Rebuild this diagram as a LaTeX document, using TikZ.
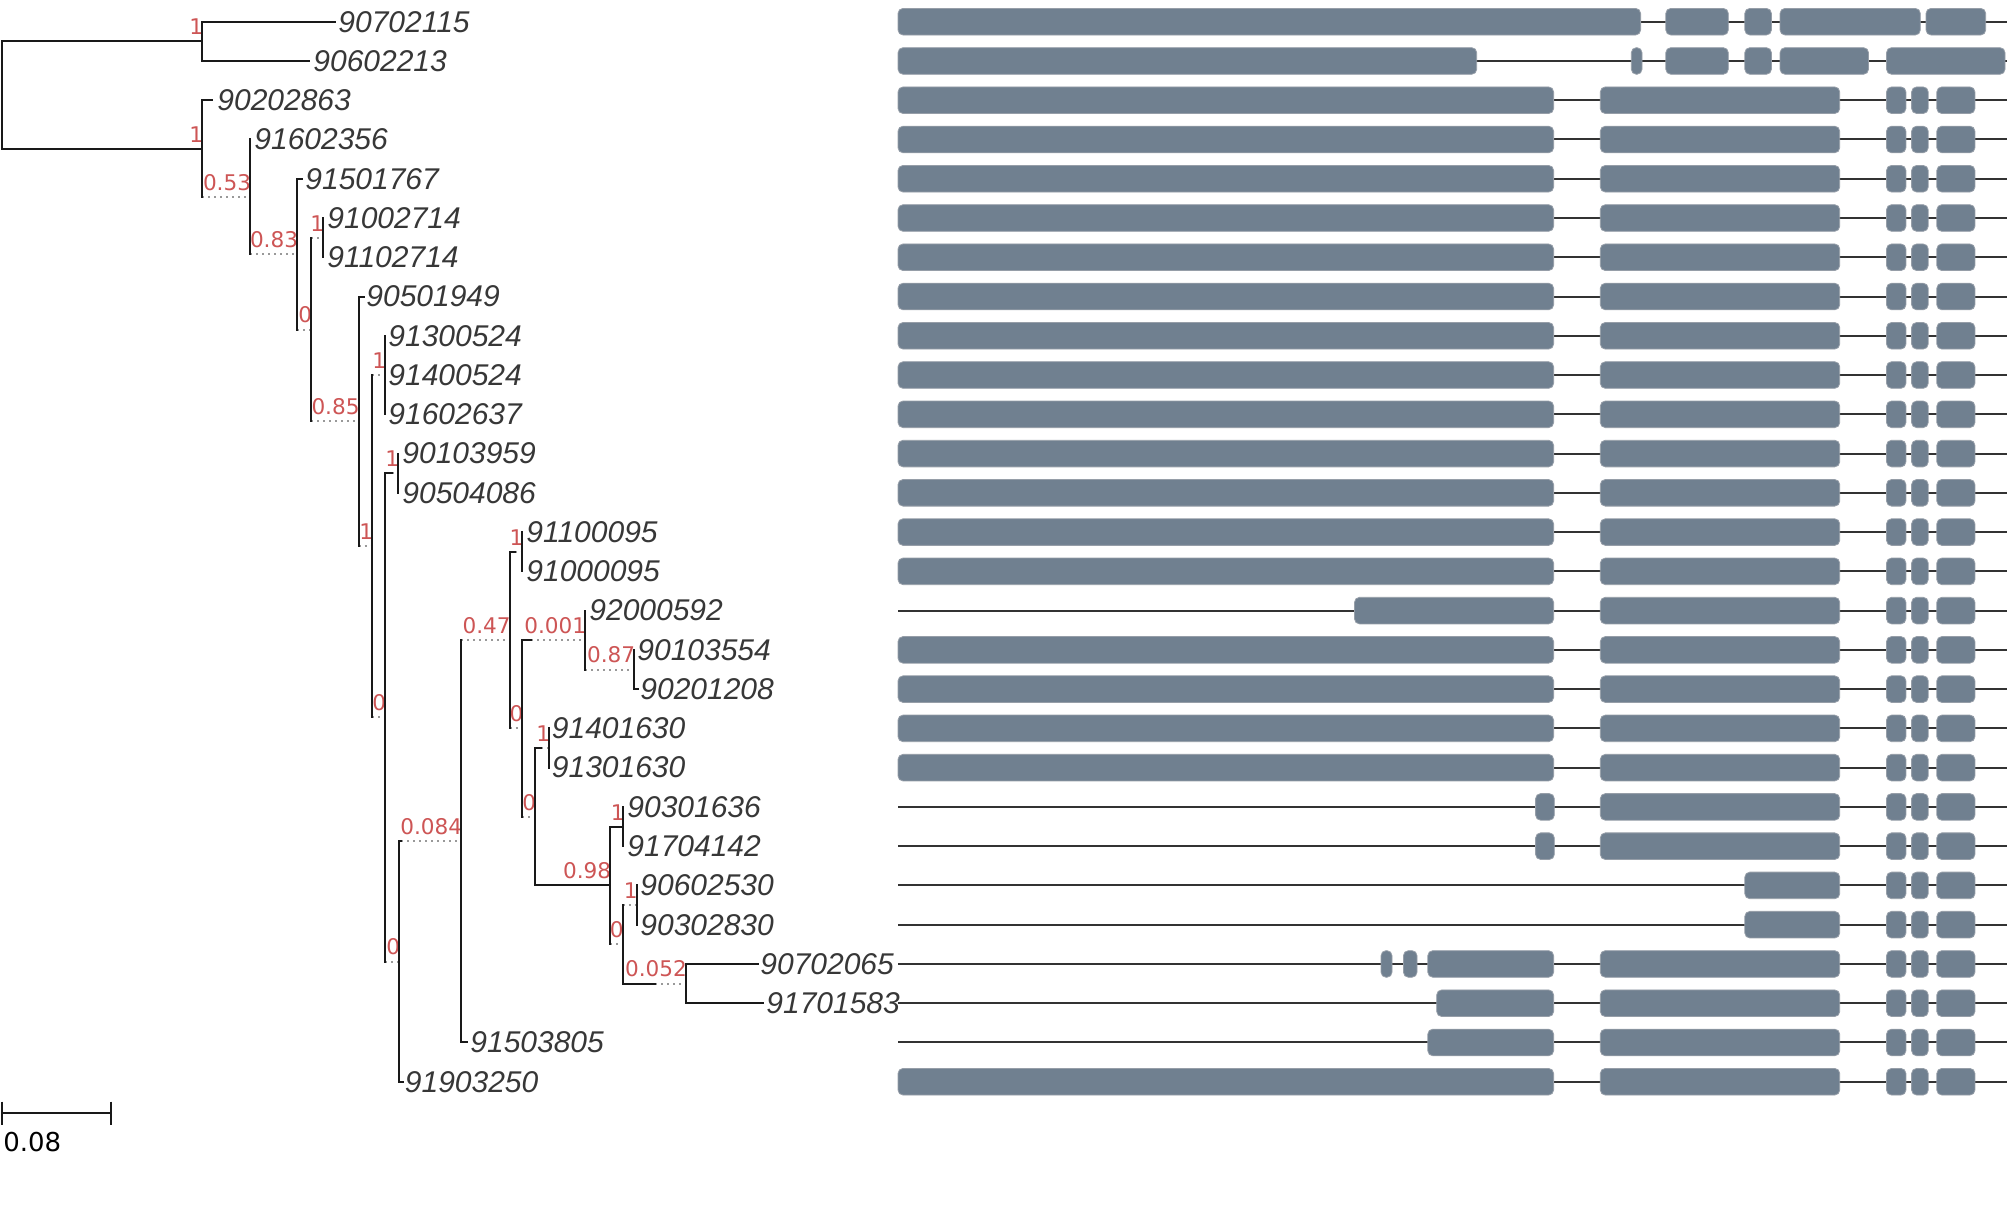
\documentclass[tikz,border=0pt]{standalone}
\usepackage{fontspec}
\newfontfamily\lsans{Liberation Sans}
\newfontfamily\dsans{DejaVu Sans}
\usetikzlibrary{calc}
\definecolor{supred}{RGB}{205,85,85}
\definecolor{exonfill}{RGB}{112,128,144}
\definecolor{exonedge}{RGB}{150,158,168}
\definecolor{leafgray}{RGB}{55,55,55}
\newcommand\generow[2]{%
  \pgfmathsetmacro\gy{21.7+39.26*#1}%
  \draw[intron] (898,\gy) -- (2007,\gy);
  \foreach \a/\b in {#2}{\draw[exonbox] (\a,\gy-13.3) rectangle (\b,\gy+13.3);}%
}
\begin{document}
\begin{tikzpicture}[x=0.5pt,y=-0.5pt,
  br/.style={line width=1pt,black!90,line cap=rect},
  ext/.style={line width=1pt,black!40,dash pattern=on 1pt off 2pt},
  bsup/.style={font=\dsans\fontsize{10.8}{13}\selectfont,text=supred,anchor=south east,inner sep=0pt},
  leaf/.style={font=\lsans\itshape\fontsize{15}{18}\selectfont,text=leafgray,anchor=west,inner sep=0pt},
  intron/.style={line width=1pt,black!80},
  exonbox/.style={fill=exonfill,draw=exonedge,line width=0.4pt,rounded corners=2.5pt}]
\useasboundingbox (0,0) rectangle (2007,1211);
% ---------- internal nodes ----------
\coordinate (root) at (2,94.92);
\coordinate (A) at (202,41.33);
\coordinate (B) at (202,148.51);
\coordinate (C) at (250,196.80);
\coordinate (D) at (297,254.12);
\coordinate (E) at (311,329.50);
\coordinate (F) at (323,237.63);
\coordinate (G) at (358.5,421.36);
\coordinate (H) at (372,546.19);
\coordinate (I) at (385,375.04);
\coordinate (K) at (385,717.34);
\coordinate (J) at (398,473.19);
\coordinate (M) at (399,961.49);
\coordinate (N) at (461,841.25);
\coordinate (O) at (509.5,640.05);
\coordinate (P) at (522.3,551.71);
\coordinate (Q) at (522.3,728.38);
\coordinate (R) at (585,640.05);
\coordinate (S) at (634,669.49);
\coordinate (T) at (535,816.72);
\coordinate (U) at (549,748.01);
\coordinate (V) at (610,885.42);
\coordinate (W) at (623.4,826.53);
\coordinate (X) at (622.6,944.31);
\coordinate (Y) at (636.5,905.05);
\coordinate (Z) at (685.8,983.57);
% ---------- leaves ----------
\foreach \i/\p/\tp/\lx/\txt in {
0/A/335/338/90702115,
1/A/309/313/90602213,
2/B/212/217/90202863,
3/C/250/254/91602356,
4/D/302/305/91501767,
5/F/323/327/91002714,
6/F/323/327/91102714,
7/G/364/366/90501949,
8/I/385/388/91300524,
9/I/385/388/91400524,
10/I/385/388/91602637,
11/J/398/402/90103959,
12/J/398/402/90504086,
13/P/522.3/526/91100095,
14/P/522.3/526/91000095,
15/R/585/589/92000592,
16/S/634/637/90103554,
17/S/638/640/90201208,
18/U/549/551.5/91401630,
19/U/549/551.5/91301630,
20/W/623.4/627/90301636,
21/W/623.4/627/91704142,
22/Y/636.5/640/90602530,
23/Y/636.5/640/90302830,
24/Z/758/760/90702065,
25/Z/763/766/91701583,
26/N/467/470/91503805,
27/M/403/404.5/91903250}
{
  \pgfmathsetmacro\yy{21.7+39.26*\i}
  \coordinate (t\i) at (\tp,\yy);
  \node[leaf] (l\i) at (\lx,\yy) {\txt};
  \draw[br] (\p |- t\i) -- (t\i);
}
% ---------- internal branches with support values ----------
\foreach \n/\p/\s/\lab in {
A/root/200/1, B/root/200/1, C/B/0/0.53, D/C/0/0.83, E/D/0/0, F/E/0/1,
G/E/0/0.85, H/G/0/1, I/H/0/1, K/H/0/0, J/K/7/1, M/K/0/0, N/M/2/0.084,
O/N/0/0.47, P/O/5/1, Q/O/0/0, R/Q/9/0.001, S/R/0/0.87, T/Q/0/0, U/T/6/1,
V/T/75/0.98, W/V/13.4/1, X/V/0/0, Y/X/0/1, Z/X/32.4/0.052}
{
  \draw[ext] ($(\p |- \n)+(\s,0)$) -- (\n);
  \draw[br] (\p |- \n) -- ++(\s,0);
  \node[bsup] at ($(\n)+(1.5,-6)$) {\lab};
}
% ---------- verticals ----------
\foreach \n/\a/\b in {root/A/B, A/t0/t1, B/t2/C, C/t3/D, D/t4/E, E/F/G, F/t5/t6,
G/t7/H, H/I/K, I/t8/t10, J/t11/t12, K/J/M, M/N/t27, N/O/t26, O/P/Q, P/t13/t14,
Q/R/T, R/t15/S, S/t16/t17, T/U/V, U/t18/t19, V/W/X, W/t20/t21, X/Y/Z,
Y/t22/t23, Z/t24/t25}
{
  \draw[br] (\n |- \a) -- (\n |- \b);
}
% ---------- scale bar ----------
\coordinate (sb1) at (1.7,1113.3);
\coordinate (sb2) at (111,1113.3);
\draw[br,line cap=butt] (sb1) -- (sb2);
\draw[br,line cap=butt] ($(sb1)+(0,-11.6)$) -- ($(sb1)+(0,11.6)$);
\draw[br,line cap=butt] ($(sb2)+(0,-11.6)$) -- ($(sb2)+(0,11.6)$);
\node[font=\dsans\fontsize{13}{15}\selectfont,anchor=north west,inner sep=0pt] (sblabel) at (3,1131.7) {0.08};
% ---------- gene structures ----------
\generow{0}{898/1640.6,1665.8/1728.3,1744.8/1771.4,1780/1920.3,1926/1985.7}
\generow{1}{898/1476.7,1631.3/1642,1665.8/1728.3,1744.8/1771.4,1780/1868.5,1886.5/2005}
\foreach \r in {2,3,4,5,6,7,8,9,10,11,12,13,14,16,17,18,19,27}{%
  \generow{\r}{898/1553.6,1600.3/1839.7,1886.5/1905.9,1911.6/1928.2,1936.8/1974.9}}
\generow{15}{1354.5/1553.6,1600.3/1839.7,1886.5/1905.9,1911.6/1928.2,1936.8/1974.9}
\generow{20}{1535.6/1554.3,1600.3/1839.7,1886.5/1905.9,1911.6/1928.2,1936.8/1974.9}
\generow{21}{1535.6/1554.3,1600.3/1839.7,1886.5/1905.9,1911.6/1928.2,1936.8/1974.9}
\generow{22}{1744.8/1839.7,1886.5/1905.9,1911.6/1928.2,1936.8/1974.9}
\generow{23}{1744.8/1839.7,1886.5/1905.9,1911.6/1928.2,1936.8/1974.9}
\generow{24}{1381/1392,1403.4/1417,1427.8/1553.6,1600.3/1839.7,1886.5/1905.9,1911.6/1928.2,1936.8/1974.9}
\generow{25}{1436.7/1553.6,1600.3/1839.7,1886.5/1905.9,1911.6/1928.2,1936.8/1974.9}
\generow{26}{1427.8/1553.6,1600.3/1839.7,1886.5/1905.9,1911.6/1928.2,1936.8/1974.9}
\end{tikzpicture}
\end{document}
